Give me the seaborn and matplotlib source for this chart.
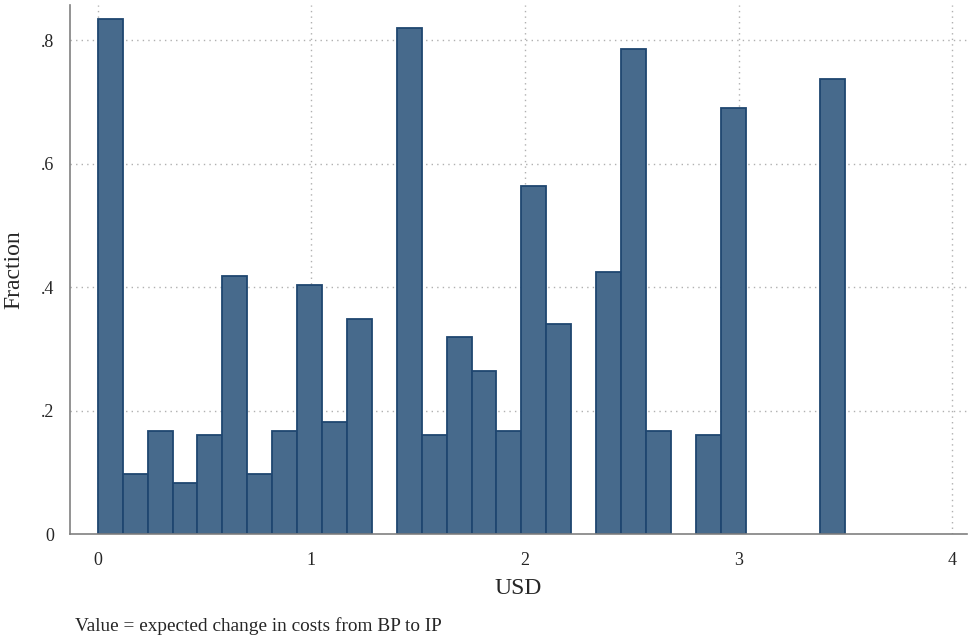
import seaborn as sns
import matplotlib.pyplot as plt
import pandas as pd
import numpy as np

# histogram of expected cost change, 30 bins of width 3.5/30 from 0 to 3.5
bin_edges = list(np.linspace(0, 3.5, 31))
fractions = [0.835, 0.097, 0.167, 0.083, 0.160, 0.418, 0.097, 0.167, 0.404, 0.181,
             0.349, 0.0, 0.820, 0.160, 0.320, 0.265, 0.167, 0.564, 0.341, 0.0,
             0.425, 0.786, 0.167, 0.0, 0.160, 0.690, 0.0, 0.0, 0.0, 0.738]
y_ticks = [0, 0.2, 0.4, 0.6, 0.8]
y_ticklabels = ["0", ".2", ".4", ".6", ".8"]
x_ticks = [0, 1, 2, 3, 4]

edges = np.array(bin_edges)
df = pd.DataFrame({"usd": (edges[:-1] + edges[1:]) / 2, "fraction": fractions})
df = df[df["fraction"] > 0]

sns.set_style("white")
plt.rcParams["font.family"] = ["Liberation Serif", "DejaVu Serif"]

fig = plt.figure(figsize=(9.69, 6.39), dpi=100)
ax = fig.add_axes([0.072, 0.164, 0.926, 0.828])

sns.histplot(data=df, x="usd", weights="fraction", bins=bin_edges,
             color="#476a8c", edgecolor="#1f4670", linewidth=1.3, alpha=1, ax=ax)

# drop empty bins so no flat edge lines sit on the axis
for p in list(ax.patches):
    if p.get_height() == 0:
        p.remove()

ax.set_xlim(-0.131, 4.07)
ax.set_ylim(0, 0.857)
ax.set_xticks(x_ticks)
ax.set_yticks(y_ticks)
ax.set_yticklabels(y_ticklabels)

for y in y_ticks[1:]:
    ax.axhline(y, color="#b0b0b0", linestyle=(0, (1, 3)), linewidth=1, zorder=0)
for x in x_ticks:
    ax.axvline(x, color="#b0b0b0", linestyle=(0, (1, 3)), linewidth=1, zorder=0)

for side in ["top", "right"]:
    ax.spines[side].set_visible(False)
for side in ["left", "bottom"]:
    ax.spines[side].set_color("#808080")
    ax.spines[side].set_linewidth(1.2)
ax.tick_params(axis="both", direction="out", length=6, width=1.2, color="#808080",
               labelsize=13, pad=5)
ax.tick_params(axis="x", pad=7)

ax.set_xlabel("USD", fontsize=17, labelpad=6)
ax.set_ylabel("Fraction", fontsize=17, labelpad=12)
fig.text(0.077, 0.0125, "Value = expected change in costs from BP to IP",
         fontsize=13.9, va="baseline")

plt.savefig("out.png", dpi=100)
